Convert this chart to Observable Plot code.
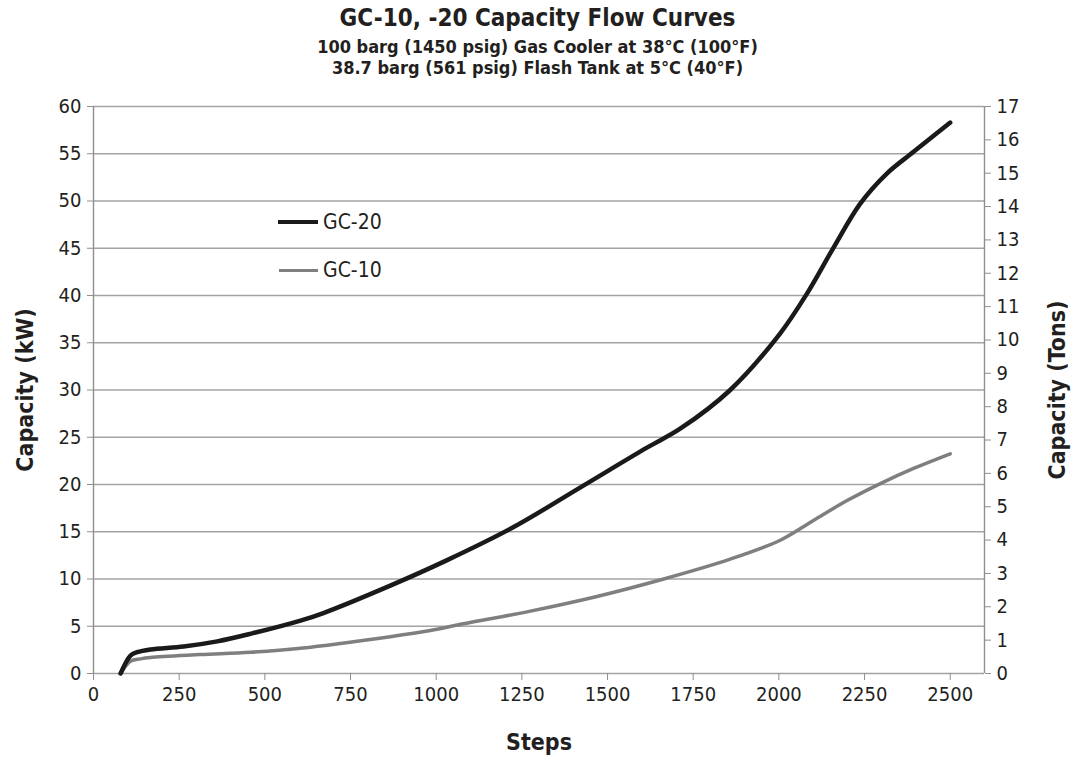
<!DOCTYPE html>
<html><head><meta charset="utf-8">
<script src="https://cdn.jsdelivr.net/npm/d3@7"></script>
<script src="https://cdn.jsdelivr.net/npm/@observablehq/plot@0.6"></script>
<style>
body{margin:0;background:#fff;font-family:"DejaVu Sans Condensed","Liberation Sans Narrow",sans-serif;}
#wrap{position:relative;width:1075px;height:761px;overflow:hidden;}
.t{position:absolute;left:0;width:1075px;text-align:center;font-weight:bold;color:#231f20;white-space:nowrap;line-height:1;}
#chart{position:absolute;left:0;top:85px;}
#chart svg [aria-label$="axis label"] text{font-size:23px;font-weight:bold;fill:#231f20;}
.leg{position:absolute;font-size:21px;color:#231f20;line-height:1;}
.sw{position:absolute;height:0;}
</style></head>
<body><div id="wrap">
<div class="t" id="title" style="top:6px;font-size:24px;"></div>
<div class="t" id="sub1" style="top:38px;font-size:18px;"></div>
<div class="t" id="sub2" style="top:59px;font-size:18px;"></div>
<div id="chart"></div>
<div class="sw" style="left:278px;top:220px;width:40px;border-top:4.5px solid #1a1a1a;"></div>
<div class="leg" id="l20" style="left:323px;top:212px;"></div>
<div class="sw" style="left:279px;top:269px;width:39px;border-top:3px solid #808080;"></div>
<div class="leg" id="l10" style="left:323px;top:260px;"></div>
</div>
<script>
const titleText = "GC-10, -20 Capacity Flow Curves";
const subtitle1 = "100 barg (1450 psig) Gas Cooler at 38°C (100°F)";
const subtitle2 = "38.7 barg (561 psig) Flash Tank at 5°C (40°F)";
const seriesNames = ["GC-20", "GC-10"];

const gc20Steps = [79, 108, 127, 166, 263, 361, 458, 604, 671, 866, 1032, 1226, 1421, 1615, 1712, 1858, 2004, 2082, 2160, 2237, 2315, 2393, 2500];
const gc20Kw    = [0, 1.9, 2.25, 2.55, 2.86, 3.4, 4.2, 5.6, 6.4, 9.3, 12.0, 15.5, 19.7, 23.9, 25.9, 30.0, 36.0, 40.2, 45.1, 49.7, 52.9, 55.2, 58.3];
const gc10Steps = [79, 108, 137, 166, 312, 458, 604, 866, 983, 1080, 1275, 1469, 1664, 1858, 2004, 2101, 2199, 2296, 2393, 2500];
const gc10Kw    = [0, 1.3, 1.55, 1.7, 2.0, 2.25, 2.68, 3.9, 4.55, 5.26, 6.6, 8.15, 10.0, 12.1, 14.1, 16.2, 18.3, 20.1, 21.7, 23.25];

const xTicks = [0, 250, 500, 750, 1000, 1250, 1500, 1750, 2000, 2250, 2500];
const kwTicks = [0, 5, 10, 15, 20, 25, 30, 35, 40, 45, 50, 55, 60];
const tonTicks = [0,1,2,3,4,5,6,7,8,9,10,11,12,13,14,15,16,17];
const xDomain = [0, 2600];
const yDomain = [0, 60];
const kwPerTon = 60 / 17;

document.getElementById("title").textContent = titleText;
document.getElementById("sub1").textContent = subtitle1;
document.getElementById("sub2").textContent = subtitle2;
document.getElementById("l20").textContent = seriesNames[0];
document.getElementById("l10").textContent = seriesNames[1];

const gc20 = gc20Steps.map((s, i) => ({step: s, kw: gc20Kw[i]}));
const gc10 = gc10Steps.map((s, i) => ({step: s, kw: gc10Kw[i]}));

const font = '"DejaVu Sans Condensed","Liberation Sans Narrow",sans-serif';
const axisCol = "#8f8f8f";
const chart = Plot.plot({
  width: 1075, height: 676,
  marginTop: 21, marginBottom: 88, marginLeft: 93, marginRight: 91,
  x: {domain: xDomain},
  y: {domain: yDomain},
  style: {fontFamily: font, fontSize: "20px", color: "#231f20", background: "transparent"},
  marks: [
    Plot.gridY(kwTicks, {stroke: "#a3a3a3", strokeOpacity: 1, strokeWidth: 1.4}),
    Plot.ruleX(xDomain, {stroke: axisCol, strokeWidth: 1.4}),
    Plot.axisY(kwTicks, {anchor: "left", tickSize: 6, tickPadding: 6, stroke: axisCol, strokeOpacity: 1, fontSize: 20,
      label: "Capacity (kW)", labelAnchor: "center", labelOffset: 77, labelArrow: "none"}),
    Plot.axisY(tonTicks.map(t => t * kwPerTon), {anchor: "right", tickSize: 6, tickPadding: 6, stroke: axisCol, strokeOpacity: 1, fontSize: 20,
      tickFormat: d => String(Math.round(d / kwPerTon)),
      label: "Capacity (Tons)", labelAnchor: "center", labelOffset: 80, labelArrow: "none"}),
    Plot.axisX(xTicks, {anchor: "bottom", tickSize: 7, tickPadding: 6, stroke: axisCol, strokeOpacity: 1, fontSize: 20,
      tickFormat: d => String(d),
      label: "Steps", labelAnchor: "center", labelOffset: 76, labelArrow: "none"}),
    Plot.line(gc10, {x: "step", y: "kw", stroke: "#7f7f7f", strokeWidth: 3.5, curve: "catmull-rom"}),
    Plot.line(gc20, {x: "step", y: "kw", stroke: "#1a1a1a", strokeWidth: 4.5, curve: "catmull-rom"})
  ]
});
document.getElementById("chart").appendChild(chart);
</script>
</body></html>
